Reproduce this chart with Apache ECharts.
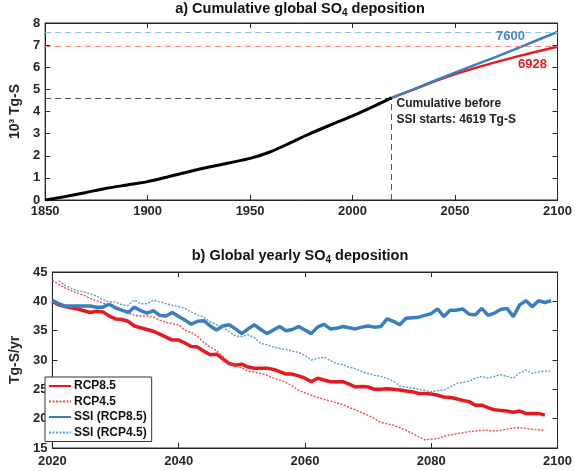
<!DOCTYPE html>
<html>
<head>
<meta charset="utf-8">
<script src="https://cdn.jsdelivr.net/npm/echarts@6/dist/echarts.min.js"></script>
<style>html,body{margin:0;padding:0;background:#fff}#c{width:575px;height:471px}</style>
</head>
<body>
<div id="c"></div>
<script>
// ---- panel a) cumulative deposition (10^3 Tg-S) ----
const histYears = [1850,1860,1870,1880,1890,1900,1910,1920,1930,1940,1950,1960,1970,1980,1990,2000,2010,2019];
const histCum   = [0,0.16,0.34,0.53,0.68,0.83,1.05,1.28,1.49,1.68,1.88,2.18,2.6,3.03,3.42,3.8,4.22,4.619];
const projYears = [2019,2030,2040,2050,2060,2070,2080,2090,2100];
const cumRCP85  = [4.619,5.0,5.36,5.69,5.97,6.23,6.48,6.71,6.928];
const cumSSI85  = [4.619,5.01,5.39,5.76,6.12,6.47,6.84,7.22,7.6];
const xTicksA = [1850,1900,1950,2000,2050,2100];
const yTicksA = [0,1,2,3,4,5,6,7,8];

// ---- panel b) yearly deposition (Tg-S/yr) ----
const years = [2020,2021,2022,2023,2024,2025,2026,2027,2028,2029,
               2030,2031,2032,2033,2034,2035,2036,2037,2038,2039,
               2040,2041,2042,2043,2044,2045,2046,2047,2048,2049,
               2050,2051,2052,2053,2054,2055,2056,2057,2058,2059,
               2060,2061,2062,2063,2064,2065,2066,2067,2068,2069,
               2070,2071,2072,2073,2074,2075,2076,2077,2078,2079,
               2080,2081,2082,2083,2084,2085,2086,2087,2088,2089,
               2090,2091,2092,2093,2094,2095,2096,2097,2098,2099];
const rcp85 = [40.0,39.4,39.1,38.9,38.7,38.4,38.1,38.3,38.2,37.5,
               37.0,36.9,36.6,35.8,35.5,35.2,34.9,34.4,33.9,33.4,
               33.4,32.9,32.3,32.2,31.5,30.9,31.0,30.2,29.4,29.1,
               29.3,28.8,28.6,28.6,28.6,28.4,28.0,27.6,27.6,27.3,
               26.9,26.3,26.9,26.6,26.3,26.3,26.3,25.9,25.4,25.5,
               25.4,25.0,25.0,25.1,25.0,24.9,24.7,24.6,24.3,24.3,
               24.2,24.0,23.7,23.6,23.4,23.1,22.9,22.3,22.3,21.9,
               21.5,21.4,21.3,21.1,21.3,20.9,20.9,20.9,20.6,null];
const rcp45 = [43.6,42.9,42.3,41.8,41.4,41.0,40.5,40.1,39.7,39.3,
               38.9,38.5,38.0,37.6,37.5,37.5,37.3,36.8,36.4,36.2,
               36.0,35.1,34.7,34.0,33.0,32.2,31.6,30.6,29.5,29.0,
               28.7,28.1,27.9,27.7,27.4,26.9,26.6,26.2,25.6,24.8,
               24.4,24.0,23.6,23.3,23.0,22.7,22.4,21.9,21.5,21.0,
               20.6,20.0,19.4,19.1,18.9,18.5,18.0,17.5,16.9,16.4,
               16.5,16.6,17.0,17.2,17.4,17.6,17.8,17.9,18.0,18.0,
               17.9,18.0,18.2,18.4,18.5,18.3,18.2,18.1,18.0,null];
const ssi85 = [40.2,39.6,39.2,39.2,39.2,39.2,39.2,39.0,39.0,39.5,
               38.9,38.5,38.1,39.0,38.4,38.0,38.4,37.6,37.5,38.1,
               37.4,36.8,36.1,36.6,36.7,35.8,35.1,35.8,36.0,35.3,
               34.5,35.3,36.0,35.2,34.5,35.1,35.7,35.0,35.2,35.7,
               35.1,34.5,35.6,36.1,35.3,35.4,35.7,35.5,35.3,35.6,
               35.8,35.6,35.7,37.0,36.6,36.0,37.1,37.2,37.3,37.6,
               37.9,38.7,37.4,38.5,38.5,38.7,37.8,37.7,38.8,37.6,
               38.0,38.6,38.8,37.4,39.4,40.1,39.1,40.1,39.8,40.1];
const ssi45 = [null,43.5,42.7,42.2,41.8,41.6,41.3,40.9,40.3,39.9,
               39.9,39.4,39.3,40.2,39.6,39.6,40.2,39.9,39.6,39.3,
               39.1,38.8,38.2,37.7,37.3,36.5,36.0,35.6,34.8,34.1,
               34.0,34.3,33.8,32.8,32.6,32.2,32.0,31.8,31.5,31.3,
               30.8,30.0,30.3,30.5,29.9,29.4,29.2,28.8,28.5,28.0,
               27.7,27.4,27.2,26.9,26.4,25.6,25.4,25.2,25.0,24.8,
               24.6,24.8,24.9,25.4,26.0,26.2,26.4,26.9,27.2,26.9,
               27.2,27.5,27.2,26.9,27.8,28.3,27.7,28.0,28.1,28.1];
const seriesNames = ['RCP8.5','RCP4.5','SSI (RCP8.5)','SSI (RCP4.5)'];

const RED = '#e8191e', BLUE = '#3a7ec2', INK = '#262626';
const FONT = 'Liberation Sans, Arial, sans-serif';
const pair = (xs, ys) => xs.map((x, i) => [x, ys[i]]);
const last = a => a[a.length - 1];

const lbl = {fontFamily: FONT, fontWeight: 'bold', fontSize: 13, color: INK, formatter: v => String(v)};
function mainAxis(grid, min, max, interval, extra) {
  return Object.assign({
    type: 'value', gridIndex: grid, min, max, interval,
    axisLine: {show: true, onZero: false, lineStyle: {color: INK, width: 1}},
    axisTick: {show: true, inside: true, length: 5, lineStyle: {color: INK}},
    axisLabel: Object.assign({margin: 5}, lbl),
    splitLine: {show: false}
  }, extra || {});
}
function mirrorAxis(grid, pos, min, max, interval) {
  return {
    type: 'value', gridIndex: grid, position: pos, min, max, interval,
    axisLine: {show: true, onZero: false, lineStyle: {color: INK, width: 1}},
    axisTick: {show: true, inside: true, length: 5, lineStyle: {color: INK}},
    axisLabel: {show: false}, splitLine: {show: false}
  };
}
const titleRich = {
  t: {fontFamily: FONT, fontWeight: 'bold', fontSize: 14.5, color: '#111', lineHeight: 18},
  s: {fontFamily: FONT, fontWeight: 'bold', fontSize: 10, color: '#111', lineHeight: 11, verticalAlign: 'bottom'}
};
const nameStyle = {fontFamily: FONT, fontWeight: 'bold', fontSize: 14, color: INK};

const option = {
  backgroundColor: '#fff',
  animation: false,
  title: [
    {text: '{t|a) Cumulative global SO}{s|4}{t| deposition}', left: 300, top: 0, textAlign: 'center',
     padding: 0, textStyle: {rich: titleRich}},
    {text: '{t|b) Global yearly SO}{s|4}{t| deposition}', left: 300, top: 247, textAlign: 'center',
     padding: 0, textStyle: {rich: titleRich}}
  ],
  grid: [
    {left: 40, top: 23, width: 519, height: 177, show: true, borderColor: INK, borderWidth: 1, backgroundColor: 'transparent'},
    {left: 40, top: 272, width: 520, height: 176, show: true, borderColor: INK, borderWidth: 1, backgroundColor: 'transparent'}
  ],
  xAxis: [
    mainAxis(0, xTicksA[0], last(xTicksA), 50),
    mainAxis(1, years[0], 2100, 20, {axisLabel: Object.assign({margin: 7}, lbl)}),
    mirrorAxis(0, 'top', xTicksA[0], last(xTicksA), 50),
    mirrorAxis(1, 'top', years[0], 2100, 20)
  ],
  yAxis: [
    mainAxis(0, yTicksA[0], last(yTicksA), 1,
      {name: '10³ Tg-S', nameLocation: 'middle', nameGap: 18, nameRotate: 90, nameTextStyle: nameStyle}),
    mainAxis(1, 15, 45, 5,
      {name: 'Tg-S/yr', nameLocation: 'middle', nameGap: 20, nameRotate: 90, nameTextStyle: nameStyle}),
    mirrorAxis(0, 'right', yTicksA[0], last(yTicksA), 1),
    mirrorAxis(1, 'right', 15, 45, 5)
  ],
  legend: {
    data: seriesNames,
    orient: 'vertical', left: 45, top: 377,
    backgroundColor: '#fff', borderColor: '#333', borderWidth: 1,
    padding: [3, 5, 3, 3],
    itemWidth: 22, itemHeight: 12, itemGap: 3.5,
    itemStyle: {opacity: 0},
    textStyle: {fontFamily: FONT, fontWeight: 'bold', fontSize: 12, color: '#111', padding: [0, 0, 0, -2]}
  },
  series: [
    {type: 'line', name: 'hist', xAxisIndex: 0, yAxisIndex: 0, data: pair(histYears, histCum),
     symbol: 'none', smooth: 0.25, lineStyle: {color: '#000', width: 3}, z: 5,
     markLine: {silent: true, symbol: 'none', label: {show: false},
       lineStyle: {color: '#555', type: [6, 4], width: 1},
       data: [
         [{coord: [histYears[0], last(histCum)]}, {coord: [last(histYears), last(histCum)]}],
         [{coord: [last(histYears), yTicksA[0]]}, {coord: [last(histYears), last(histCum)]}]
       ]},
     markPoint: {symbol: 'circle', symbolSize: 0,
       data: [{coord: [last(histYears), last(histCum)],
         label: {show: true, position: 'right', align: 'left', verticalAlign: 'top', offset: [0, -2],
           lineHeight: 16, fontFamily: FONT, fontWeight: 'bold', fontSize: 12, color: '#222',
           formatter: 'Cumulative before\nSSI starts: ' + Math.round(last(histCum) * 1000) + ' Tg-S'}}]}
    },
    {type: 'line', name: 'cumRCP85', xAxisIndex: 0, yAxisIndex: 0, data: pair(projYears, cumRCP85),
     symbol: 'none', lineStyle: {color: RED, width: 2.5}, z: 4,
     markLine: {silent: true, symbol: 'none', label: {show: false},
       lineStyle: {color: '#f08a8a', type: [6, 4], width: 1.2},
       data: [{yAxis: last(cumRCP85)}]},
     markPoint: {symbol: 'circle', symbolSize: 0,
       data: [{coord: [last(projYears), last(cumRCP85)],
         label: {show: true, offset: [-25, 18], fontFamily: FONT, fontWeight: 'bold', fontSize: 13, color: RED,
           formatter: String(Math.round(last(cumRCP85) * 1000))}}]}
    },
    {type: 'line', name: 'cumSSI85', xAxisIndex: 0, yAxisIndex: 0, data: pair(projYears, cumSSI85),
     symbol: 'none', lineStyle: {color: BLUE, width: 2.5}, z: 4,
     markLine: {silent: true, symbol: 'none', label: {show: false},
       lineStyle: {color: '#94bfe8', type: [6, 4], width: 1.2},
       data: [{yAxis: last(cumSSI85)}]},
     markPoint: {symbol: 'circle', symbolSize: 0,
       data: [{coord: [last(projYears), last(cumSSI85)],
         label: {show: true, offset: [-47, 5], fontFamily: FONT, fontWeight: 'bold', fontSize: 13, color: '#4a88c8',
           formatter: String(Math.round(last(cumSSI85) * 1000))}}]}
    },
    {type: 'line', name: seriesNames[0], xAxisIndex: 1, yAxisIndex: 1, data: pair(years, rcp85),
     symbol: 'none', lineStyle: {color: RED, width: 3.5}, itemStyle: {color: RED}},
    {type: 'line', name: seriesNames[1], xAxisIndex: 1, yAxisIndex: 1, data: pair(years, rcp45),
     symbol: 'none', lineStyle: {color: '#ef4a4a', width: 1.4, type: [2, 1.5]}, itemStyle: {color: '#ef4a4a'}},
    {type: 'line', name: seriesNames[2], xAxisIndex: 1, yAxisIndex: 1, data: pair(years, ssi85),
     symbol: 'none', lineStyle: {color: BLUE, width: 3.5}, itemStyle: {color: BLUE}},
    {type: 'line', name: seriesNames[3], xAxisIndex: 1, yAxisIndex: 1, data: pair(years, ssi45),
     symbol: 'none', lineStyle: {color: '#5b9bd8', width: 1.4, type: [2, 1.5]}, itemStyle: {color: '#5b9bd8'}},
    // empty series binding the mirrored (box) axes so their inside ticks are drawn
    {type: 'line', name: 'boxA', xAxisIndex: 2, yAxisIndex: 2, data: [], symbol: 'none'},
    {type: 'line', name: 'boxB', xAxisIndex: 3, yAxisIndex: 3, data: [], symbol: 'none'}
  ]
};
const chart = echarts.init(document.getElementById('c'), null, {renderer: 'canvas'});
chart.setOption(option);
</script>
</body>
</html>
